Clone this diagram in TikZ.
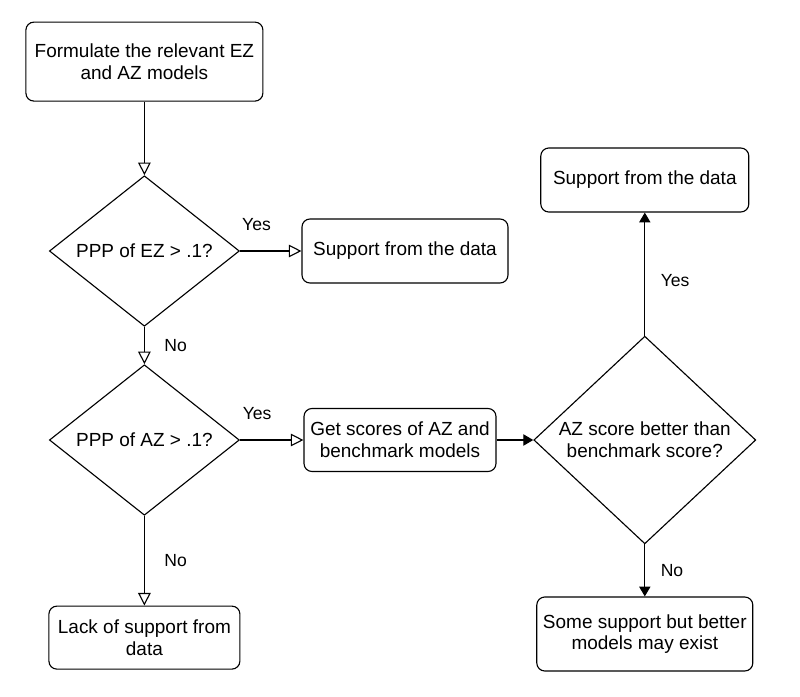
\documentclass[tikz,border=0pt]{standalone}
\usepackage{fontspec}
\setmainfont{Liberation Sans}
\usepackage{tikz}
\usetikzlibrary{shapes.geometric,arrows.meta}

\begin{document}
\begin{tikzpicture}[
  font=\fontsize{13.5}{15.5}\selectfont,
  line width=0.8pt,
  box/.style={draw, rounded corners=0.2cm, align=center, inner sep=2pt},
  decision/.style={draw, diamond, align=center, inner sep=0pt},
  openarrow/.style={-{Triangle[open,length=9pt,width=9pt]}},
  fullarrow/.style={-{Triangle[length=7pt,width=8pt]}},
  lbl/.style={font=\fontsize{12.5}{14}\selectfont, inner sep=1pt}
]
\useasboundingbox (0,0) rectangle (20,-17.4);

\node (formulate) [box, minimum width=5.925cm, minimum height=1.975cm] at (3.61,-1.54) {Formulate the relevant EZ\\and AZ models};
\node (pppez) [decision, minimum width=4.75cm, minimum height=3.55cm] at (3.61,-6.275) {PPP of EZ > .1?};
\node (support) [box, minimum width=5.15cm, minimum height=1.6cm] at (10.125,-6.275) {Support from the data};
\node (pppaz) [decision, minimum width=4.75cm, minimum height=3.55cm] at (3.61,-11.0) {PPP of AZ > .1?};
\node (lack) [box, minimum width=4.775cm, minimum height=1.575cm] at (3.61,-15.94) {Lack of support from\\data};
\node (scores) [box, minimum width=4.8cm, minimum height=1.575cm] at (10.0,-11.0) {Get scores of AZ and\\benchmark models};
\node (better) [decision, minimum width=5.55cm, minimum height=5.125cm] at (16.12,-11.0) {AZ score better than\\benchmark score?};
\node (supportaz) [box, minimum width=5.2cm, minimum height=1.6cm] at (16.12,-4.5) {Support from the data};
\node (some) [box, minimum width=5.4cm, minimum height=1.85cm] at (16.12,-15.85) {Some support but better\\models may exist};

\draw [openarrow] (formulate) -- (pppez);
\draw [openarrow] (pppez) -- node[lbl, pos=0.27, above=0.45cm] {Yes} (support);
\draw [openarrow] (pppez) -- node[lbl, midway, right=0.45cm] {No} (pppaz);
\draw [openarrow] (pppaz) -- node[lbl, pos=0.27, above=0.45cm] {Yes} (scores);
\draw [openarrow] (pppaz) -- node[lbl, midway, right=0.45cm] {No} (lack);
\draw [fullarrow] (scores) -- (better);
\draw [fullarrow] (better) -- node[lbl, pos=0.45, right=0.35cm] {Yes} (supportaz);
\draw [fullarrow] (better) -- node[lbl, midway, right=0.35cm] {No} (some);
\end{tikzpicture}
\end{document}
